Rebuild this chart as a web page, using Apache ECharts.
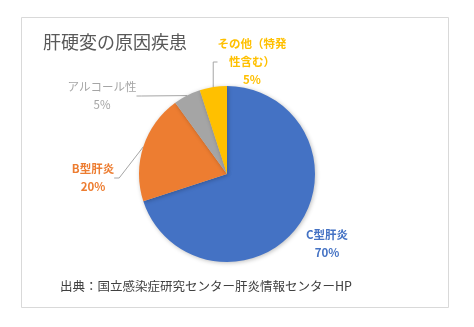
<!DOCTYPE html>
<html><head><meta charset="utf-8">
<script src="https://cdn.jsdelivr.net/npm/echarts@6/dist/echarts.min.js"></script>
<style>html,body{margin:0;padding:0;background:#fff}#c{width:474px;height:327px}</style>
</head><body><div id="c"></div>
<script>
const categories = ["C型肝炎", "B型肝炎", "アルコール性", "その他（特発\n性含む）"];
const values = [70, 20, 5, 5];
const colors = ["#4472C4", "#ED7D31", "#A5A5A5", "#FFC000"];
const titleText = "肝硬変の原因疾患";
const sourceText = "出典：国立感染症研究センター肝炎情報センターHP";

const FONT = '"Noto Sans CJK JP", "Noto Sans", sans-serif';
const labelPos = [[327, 244], [93, 178], [102, 96], [252, 62]];
const labelWeight = ['bold', 'bold', 'normal', 'bold'];

const chart = echarts.init(document.getElementById('c'), null, {renderer: 'canvas'});
chart.setOption({
  animation: false,
  backgroundColor: '#fff',
  graphic: [
    {type: 'rect', shape: {x: 21.5, y: 17.5, width: 427, height: 290}, style: {fill: '#fff', stroke: '#d9d9d9', lineWidth: 1}, z: -10},
    {type: 'text', left: 43, top: 33, style: {text: titleText, font: '18px ' + FONT, fill: '#595959'}},
    {type: 'text', left: 60, top: 280, style: {text: sourceText, font: '12.5px ' + FONT, fill: '#404040'}}
  ],
  series: [{
    type: 'pie',
    center: [227, 174],
    radius: 88,
    startAngle: 90,
    clockwise: true,
    avoidLabelOverlap: false,
    itemStyle: {shadowBlur: 4, shadowColor: 'rgba(0,0,0,0.25)', shadowOffsetX: 1, shadowOffsetY: 1},
    emphasis: {disabled: true},
    label: {
      show: true,
      formatter: '{b}\n{d}%',
      fontFamily: FONT,
      fontSize: 11.5,
      lineHeight: 18,
      align: 'center'
    },
    labelLine: {show: true, lineStyle: {color: '#a6a6a6', width: 1}, length: 10, length2: 5},
    labelLayout: function (p) {
      const pos = labelPos[p.dataIndex];
      return {x: pos[0], y: pos[1], align: 'center', verticalAlign: 'middle'};
    },
    data: categories.map((n, i) => ({
      name: n,
      value: values[i],
      itemStyle: {color: colors[i]},
      label: {color: colors[i], fontWeight: labelWeight[i]},
      labelLine: {show: i !== 0}
    }))
  }]
});
</script></body></html>
